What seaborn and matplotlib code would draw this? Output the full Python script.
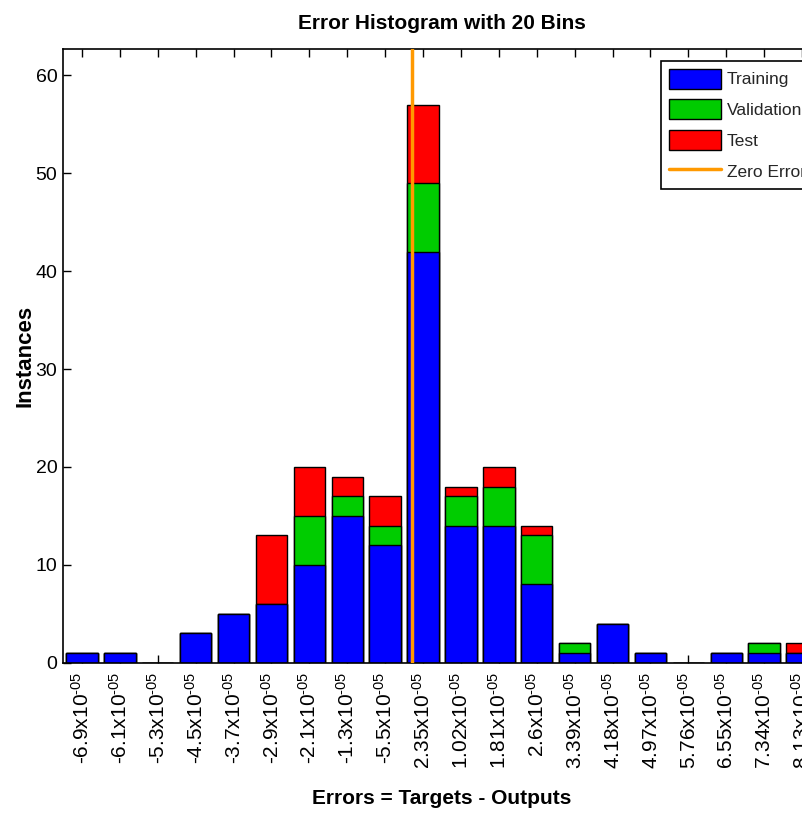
import numpy as np
import pandas as pd
import matplotlib
matplotlib.use("Agg")
import matplotlib.pyplot as plt
import seaborn as sns
from matplotlib.patches import Patch
from matplotlib.lines import Line2D

# ---------------- data ----------------
bin_centers = [-6.9e-5, -6.1e-5, -5.3e-5, -4.5e-5, -3.7e-5, -2.9e-5, -2.1e-5,
               -1.3e-5, -5.5e-6, 2.35e-6, 1.02e-5, 1.81e-5, 2.6e-5, 3.39e-5,
               4.18e-5, 4.97e-5, 5.76e-5, 6.55e-5, 7.34e-5, 8.13e-5]
tick_labels = ["-6.9", "-6.1", "-5.3", "-4.5", "-3.7", "-2.9", "-2.1", "-1.3",
               "-5.5", "2.35", "1.02", "1.81", "2.6", "3.39", "4.18", "4.97",
               "5.76", "6.55", "7.34", "8.13"]
training   = [1, 1, 0, 3, 5, 6, 10, 15, 12, 42, 14, 14, 8, 1, 4, 1, 0, 1, 1, 1]
validation = [0, 0, 0, 0, 0, 0, 5, 2, 2, 7, 3, 4, 5, 1, 0, 0, 0, 0, 1, 0]
test       = [0, 0, 0, 0, 0, 7, 5, 2, 3, 8, 1, 2, 1, 0, 0, 0, 0, 0, 0, 1]
legend_labels = ["Training", "Validation", "Test", "Zero Error"]
y_ticks = [0, 10, 20, 30, 40, 50, 60]

# ---------------- fonts ----------------
sns.set_theme(style="ticks")
plt.rcParams["font.family"] = ["Liberation Sans", "DejaVu Sans"]
plt.rcParams["mathtext.fontset"] = "custom"
plt.rcParams["mathtext.rm"] = "Liberation Sans"
plt.rcParams["mathtext.it"] = "Liberation Sans:italic"
plt.rcParams["mathtext.bf"] = "Liberation Sans:bold"

BLUE, GREEN, RED, ORANGE = "#0000FF", "#00CC00", "#FF0000", "#FF9900"

labels_math = [r"%sx10$^{\text{-}05}$" % t for t in tick_labels]
df = pd.DataFrame({"bin": labels_math, "train": training,
                   "val": validation, "test": test})
df["tv"] = df["train"] + df["val"]
df["total"] = df["tv"] + df["test"]

fig = plt.figure(figsize=(8.03, 8.14), dpi=100)
ax = fig.add_axes([63 / 803, 1 - 662.7 / 814, 758 / 803, (662.7 - 49) / 814])

common = dict(data=df, x="bin", order=labels_math, saturation=1, width=0.83,
              edgecolor="black", linewidth=1, ax=ax)
sns.barplot(y="total", color=RED, **common)
sns.barplot(y="tv", color=GREEN, **common)
sns.barplot(y="train", color=BLUE, **common)

# zero error line, located through the bin centres
zero_pos = np.interp(0.0, bin_centers, np.arange(len(bin_centers)))
ax.axvline(zero_pos, color=ORANGE, lw=2.5, zorder=5)

ax.set_xlim(-0.5, len(bin_centers) - 0.5)
ax.set_ylim(0, max(df["total"]) * 1.1)
ax.set_yticks(y_ticks)
ax.set_xticks(range(len(labels_math)))
ax.set_xticklabels(labels_math, rotation=90, fontsize=15)
for t in ax.get_yticklabels():
    t.set_fontsize(14)
ax.tick_params(axis="both", direction="in", length=5.5, width=1, color="black",
               top=True, right=True, labelcolor="black")
ax.tick_params(axis="x", pad=6.5)
ax.tick_params(axis="y", pad=4)
for s in ax.spines.values():
    s.set_visible(True)
    s.set_color("black")
    s.set_linewidth(1.2)
ax.grid(False)

ax.set_title("Error Histogram with 20 Bins", fontsize=15, fontweight="bold",
             pad=14.5, color="black")
ax.set_xlabel("Errors = Targets - Outputs", fontsize=15, fontweight="bold", color="black")
ax.xaxis.set_label_coords(0.5, (662.7 - 799) / 613.7)
ax.xaxis.label.set_va("center")
ax.set_ylabel("Instances", fontsize=16, fontweight="bold", color="black")
ax.yaxis.label.set(va="center", ha="center", rotation_mode="default")
ax.yaxis.set_label_coords((25 - 63) / 758, 0.5)

handles = [Patch(facecolor=BLUE, edgecolor="black", lw=1),
           Patch(facecolor=GREEN, edgecolor="black", lw=1),
           Patch(facecolor=RED, edgecolor="black", lw=1),
           Line2D([0], [0], color=ORANGE, lw=2.5)]
leg = fig.legend(handles, legend_labels, loc="upper left",
                 bbox_to_anchor=(660.7 / 803, 1 - 60.7 / 814),
                 bbox_transform=fig.transFigure,
                 prop={"size": 12.5},
                 frameon=True, fancybox=False, shadow=False, borderaxespad=0,
                 handlelength=3.0, handleheight=1.4, handletextpad=0.35,
                 labelspacing=0.62, borderpad=0.45)
leg.get_frame().set_edgecolor("black")
leg.get_frame().set_linewidth(1.2)
leg.get_frame().set_alpha(1)

fig.savefig("out.png", dpi=100, facecolor="white")
